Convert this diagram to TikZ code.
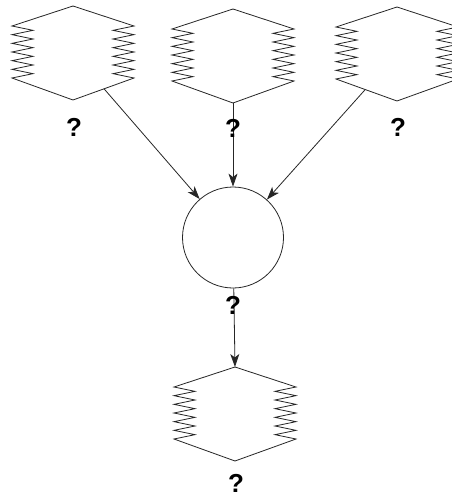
\documentclass[tikz,border=0pt]{standalone}
\usepackage{fontspec}
\setmainfont{Liberation Sans}
\usetikzlibrary{arrows.meta,calc}
\tikzset{
  shapeline/.style={draw=black!85, line width=0.8pt, line join=miter},
  arr/.style={draw=black!85, line width=0.8pt, -{Stealth[length=13pt,width=9pt,inset=3.5pt]}},
  qlabel/.style={font=\bfseries\fontsize{26}{26}\selectfont, inner sep=0pt},
  zzbox/.pic={
    \draw[shapeline] (0,-47) -- (61,-27)
      \foreach \k in {1,...,6} { -- (40,{-27+(\k-0.5)*52/6}) -- (61,{-27+\k*52/6}) }
      -- (0,47) -- (-61,25)
      \foreach \k in {1,...,6} { -- (-40,{25-(\k-0.5)*52/6}) -- (-61,{25-\k*52/6}) }
      -- cycle;
  }
}
\begin{document}
\begin{tikzpicture}[x=1pt,y=-1pt]
\useasboundingbox (0,0) rectangle (452,501);
\clip (0,0) rectangle (452,501);
\fill[white] (0,0) rectangle (452,501);
% shapes
\coordinate (s1) at (73,53);
\coordinate (s2) at (233,56);
\coordinate (s3) at (397,54);
\coordinate (s4) at (235,414);
\pic at (s1) {zzbox};
\pic at (s2) {zzbox};
\pic at (s3) {zzbox};
\pic at (s4) {zzbox};
% circle
\node[circle, draw=black!85, line width=0.8pt, minimum size=101pt, inner sep=0pt] (c) at (233,237.5) {};
% exit points
\coordinate (e1) at ($(s1)!0.194!(c.center)$);
\coordinate (e2) at ($(s2)+(0,47)$);
\coordinate (e3) at ($(s3)!0.1937!(c.center)$);
\coordinate (t4) at ($(s4)+(0,-47)$);
% connectors
\draw[arr] (e1) -- (c);
\draw[arr] (e2) -- (c);
\draw[arr] (e3) -- (c);
\draw[arr] (c) -- (t4);
% labels
\node[qlabel] (q1) at (74,127) {?};
\node[qlabel] (q2) at (233,128) {?};
\node[qlabel] (q3) at (398,127) {?};
\node[qlabel] (q4) at (233,305) {?};
\node[qlabel] (q5) at (236,483) {?};
\end{tikzpicture}
\end{document}
